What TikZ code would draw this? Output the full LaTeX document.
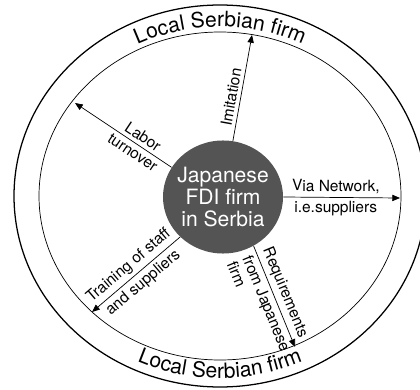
\documentclass[tikz,border=0pt]{standalone}
\usepackage{fontspec}
\setmainfont{TeX Gyre Heros}
\usepackage{tikz}
\usetikzlibrary{arrows.meta,shapes.geometric,decorations.text}

\begin{document}
\begin{tikzpicture}[x=0.025cm,y=0.025cm,font=\fontsize{11}{12}\selectfont,
  arr/.style={-{Triangle[length=5.5pt,width=4.5pt]},line width=0.5pt},
  lbl/.style={sloped,inner sep=2.5pt}]
\useasboundingbox (0,0) rectangle (420,389);
\draw[line width=0.9pt] (220,193) ellipse [x radius=206,y radius=191];
\draw[line width=0.5pt] (220,193) ellipse [x radius=181,y radius=164];
\path[decorate,decoration={text along path,text align=center,
  text={|\fontsize{15}{18}\selectfont|Local Serbian firm}}]
  (34,193) arc [start angle=180,end angle=0,x radius=186,y radius=169];
\path[decorate,decoration={text along path,text align=center,
  text={|\fontsize{15}{18}\selectfont|Local Serbian firm}}]
  (21,193) arc [start angle=180,end angle=360,x radius=199,y radius=182];

\node[ellipse,fill=black!67,text=white,align=center,inner sep=-3pt,
  minimum width=3cm,minimum height=2.825cm,
  font=\fontsize{15}{16}\selectfont] (firm) at (223,192) {Japanese\\FDI firm\\in Serbia};

\coordinate (imi) at (252,354);
\coordinate (lab) at (75,286);
\coordinate (via) at (400,191);
\coordinate (req) at (295,42);
\coordinate (trn) at (92,77);

\draw[arr] (firm.80) -- (imi) node[lbl,above,pos=0.4] (imiL) {Imitation};
\draw[arr] (firm.150) -- (lab)
  node[lbl,above,pos=0.35] (labA) {Labor}
  node[lbl,below,pos=0.35] (labB) {turnover};
\draw[arr] (firm.0) -- (via)
  node[lbl,above,pos=0.45] (viaA) {Via Network,}
  node[lbl,below,pos=0.45] (viaB) {i.e.suppliers};
\draw[arr] (firm.-58) -- (req)
  node[lbl,anchor=south west,pos=0.03] (reqA) {Requirements}
  node[lbl,anchor=north west,align=left,pos=0.03] (reqB) {from Japanese\\firm};
\draw[arr] (firm.223) -- (trn)
  node[lbl,above,pos=0.5] (trnA) {Training of staff}
  node[lbl,below,pos=0.5] (trnB) {and suppliers};
\end{tikzpicture}
\end{document}
